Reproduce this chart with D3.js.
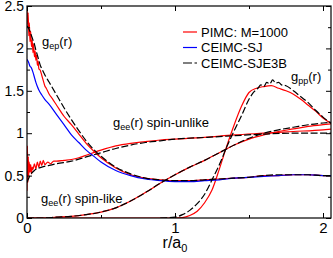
<!DOCTYPE html>
<html>
<head>
<meta charset="utf-8">
<script src="https://cdn.jsdelivr.net/npm/d3@7/dist/d3.min.js"></script>
<style>
body { margin: 0; background: #fff; }
text { font-family: "Liberation Sans", Arial, sans-serif; }
</style>
</head>
<body>
<div id="chart"></div>
<script>
// ---- data ----
// g_ep(r)
var epR_pimc = [0,0.004,0.008,0.012,0.016,0.02,0.025,0.03,0.035,0.04,0.045,0.05,0.055,0.06,0.065,0.07,0.075,0.08,0.09,0.1,0.11,0.12,0.13,0.15,0.17,0.2,0.25,0.3,0.35,0.4,0.45,0.5,0.6,0.7,0.8,0.9,1.0,1.1,1.2,1.3,1.4,1.5,1.6,1.7,1.8,1.9,2.0,2.06];
var epG_pimc = [2.5,2.28,2.42,2.15,2.3,2.08,2.2,2.02,2.1,1.95,2.05,1.9,1.97,1.86,1.92,1.8,1.85,1.76,1.74,1.68,1.62,1.56,1.53,1.46,1.41,1.33,1.2,1.1,0.99,0.88,0.79,0.71,0.59,0.51,0.47,0.45,0.44,0.44,0.45,0.46,0.47,0.48,0.5,0.5,0.51,0.51,0.5,0.5];
var epR_sj = [0,0.01,0.02,0.03,0.04,0.05,0.06,0.07,0.08,0.1,0.12,0.15,0.2,0.25,0.3,0.35,0.4,0.45,0.5,0.6,0.7,0.8,0.9,1.0,1.1,1.2,1.3,1.4,1.5,1.6,1.7,1.8,1.9,2.0,2.06];
var epG_sj = [1.87,1.84,1.79,1.77,1.72,1.66,1.6,1.55,1.51,1.45,1.4,1.34,1.22,1.1,0.98,0.89,0.8,0.73,0.66,0.56,0.5,0.46,0.44,0.43,0.43,0.44,0.45,0.47,0.48,0.49,0.5,0.51,0.51,0.5,0.5];
var epR_e3b = [0,0.01,0.02,0.03,0.04,0.05,0.06,0.07,0.08,0.09,0.1,0.12,0.15,0.2,0.25,0.3,0.35,0.4,0.45,0.5,0.6,0.7,0.8,0.9,1.0,1.1,1.2,1.3,1.4,1.5,1.6,1.7,1.8,1.9,2.0,2.06];
var epG_e3b = [2.27,2.24,2.2,2.15,2.1,2.05,1.98,1.92,1.86,1.8,1.76,1.69,1.6,1.45,1.3,1.16,1.03,0.91,0.81,0.73,0.6,0.52,0.47,0.45,0.44,0.44,0.45,0.46,0.47,0.48,0.5,0.51,0.51,0.51,0.5,0.5];

// g_ee(r) spin-unlike
var unR_pimc = [0,0.003,0.006,0.009,0.012,0.015,0.02,0.025,0.03,0.035,0.04,0.05,0.06,0.07,0.08,0.09,0.1,0.11,0.12,0.14,0.16,0.18,0.2,0.25,0.3,0.35,0.4,0.5,0.6,0.7,0.8,0.9,1.0,1.2,1.4,1.6,1.8,2.0,2.06];
var unG_pimc = [0.32,0.85,0.42,0.72,0.5,0.66,0.54,0.63,0.52,0.6,0.57,0.64,0.58,0.66,0.6,0.67,0.62,0.68,0.63,0.66,0.64,0.67,0.67,0.68,0.69,0.71,0.74,0.8,0.85,0.88,0.9,0.92,0.93,0.95,0.98,1.0,1.02,1.04,1.05];
var unR_e3b = [0,0.02,0.05,0.1,0.15,0.2,0.3,0.4,0.5,0.6,0.7,0.8,0.9,1.0,1.2,1.4,1.6,1.8,2.0,2.06];
var unG_e3b = [0.42,0.5,0.56,0.6,0.62,0.64,0.67,0.72,0.77,0.82,0.86,0.89,0.91,0.93,0.95,0.97,0.99,1.0,1.0,1.0];

// g_ee(r) spin-like
var likeR = [0,0.1,0.2,0.3,0.4,0.5,0.6,0.7,0.8,0.9,1.0,1.1,1.2,1.3,1.4,1.5,1.6,1.7,1.8,1.9,2.0,2.06];
var likeG_pimc = [0,0,0.01,0.02,0.04,0.07,0.12,0.2,0.3,0.41,0.51,0.6,0.68,0.77,0.86,0.93,0.98,1.02,1.05,1.08,1.1,1.11];
var likeG_e3b = [0,0,0.01,0.02,0.04,0.07,0.12,0.2,0.3,0.41,0.51,0.6,0.68,0.77,0.86,0.94,1.0,1.04,1.07,1.1,1.12,1.13];

// g_pp(r)
var ppR_pimc = [0,0.9,1.0,1.05,1.1,1.15,1.2,1.25,1.3,1.35,1.4,1.45,1.5,1.55,1.6,1.65,1.7,1.75,1.8,1.85,1.9,1.95,2.0,2.06];
var ppG_pimc = [0,0,0,0.005,0.03,0.08,0.18,0.33,0.58,0.85,1.1,1.32,1.48,1.53,1.55,1.56,1.53,1.5,1.46,1.4,1.33,1.26,1.18,1.11];
var ppR_e3b = [0.9,1.0,1.05,1.1,1.15,1.2,1.25,1.3,1.35,1.4,1.45,1.5,1.53,1.56,1.58,1.6,1.62,1.64,1.66,1.68,1.7,1.72,1.75,1.8,1.85,1.9,1.95,2.0,2.06];
var ppG_e3b = [0,0.01,0.04,0.09,0.17,0.28,0.45,0.63,0.84,1.03,1.21,1.4,1.48,1.53,1.57,1.55,1.6,1.58,1.63,1.59,1.6,1.57,1.56,1.5,1.43,1.36,1.27,1.19,1.11];

var legendNames = ["PIMC: M=1000", "CEIMC-SJ", "CEIMC-SJE3B"];
var xMajor = [0, 1, 2];
var xMinor = [0.5, 1.5];
var yMajor = [0, 0.5, 1, 1.5, 2, 2.5];
var yMinor = [0.25, 0.75, 1.25, 1.75, 2.25];

// ---- layout ----
var W = 333, H = 258;
var mLeft = 27, mRight = 331, mTop = 6, mBottom = 218;

var svg = d3.select("#chart").append("svg")
  .attr("width", W)
  .attr("height", H);

var x = d3.scaleLinear().domain([0, 2.054]).range([mLeft, mRight]);
var y = d3.scaleLinear().domain([0, 2.5]).range([mBottom, mTop]);

var red = "#ff0000", blue = "#0000ff", black = "#000000";

svg.append("clipPath").attr("id", "clip")
  .append("rect")
  .attr("x", mLeft).attr("y", mTop)
  .attr("width", mRight - mLeft).attr("height", mBottom - mTop);

var line = d3.line()
  .x(function(d) { return x(d[0]); })
  .y(function(d) { return y(d[1]); })
  .curve(d3.curveMonotoneX);

function pairs(rs, gs) {
  return rs.map(function(r, i) { return [r, gs[i]]; });
}

var series = [
  { r: ppR_pimc, g: ppG_pimc, c: red },
  { r: likeR, g: likeG_pimc, c: red },
  { r: unR_pimc, g: unG_pimc, c: red },
  { r: epR_pimc, g: epG_pimc, c: red },
  { r: epR_sj, g: epG_sj, c: blue },
  { r: epR_e3b, g: epG_e3b, c: black, dash: "7,2.5" },
  { r: unR_e3b, g: unG_e3b, c: black, dash: "7,2.5" },
  { r: likeR, g: likeG_e3b, c: black, dash: "7,2.5" },
  { r: ppR_e3b, g: ppG_e3b, c: black, dash: "7,2.5" }
];

var plot = svg.append("g").attr("clip-path", "url(#clip)");

plot.selectAll("path.curve")
  .data(series)
  .enter()
  .append("path")
  .attr("class", "curve")
  .attr("d", function(d) { return line(pairs(d.r, d.g)); })
  .attr("fill", "none")
  .attr("stroke", function(d) { return d.c; })
  .attr("stroke-width", 1.2)
  .attr("stroke-dasharray", function(d) { return d.dash || null; });

// ---- axes (ticks inside, mirrored on top/right) ----
function fmt(v) { return d3.format("")(v); }

var gx = svg.append("g").attr("transform", "translate(0," + mBottom + ")")
  .call(d3.axisBottom(x).tickValues(xMajor).tickSize(-5).tickPadding(4).tickFormat(fmt));
svg.append("g").attr("transform", "translate(0," + mBottom + ")")
  .call(d3.axisBottom(x).tickValues(xMinor).tickSize(-3).tickFormat(""));
svg.append("g").attr("transform", "translate(0," + mTop + ")")
  .call(d3.axisTop(x).tickValues(xMajor).tickSize(-5).tickFormat(""));
svg.append("g").attr("transform", "translate(0," + mTop + ")")
  .call(d3.axisTop(x).tickValues(xMinor).tickSize(-3).tickFormat(""));

var gy = svg.append("g").attr("transform", "translate(" + mLeft + ",0)")
  .call(d3.axisLeft(y).tickValues(yMajor).tickSize(-5).tickPadding(3).tickFormat(fmt));
svg.append("g").attr("transform", "translate(" + mLeft + ",0)")
  .call(d3.axisLeft(y).tickValues(yMinor).tickSize(-3).tickFormat(""));
svg.append("g").attr("transform", "translate(" + mRight + ",0)")
  .call(d3.axisRight(y).tickValues(yMajor).tickSize(-5).tickFormat(""));
svg.append("g").attr("transform", "translate(" + mRight + ",0)")
  .call(d3.axisRight(y).tickValues(yMinor).tickSize(-3).tickFormat(""));

svg.selectAll(".domain").remove();
svg.selectAll(".tick line").attr("stroke", black).attr("stroke-width", 1);
gx.selectAll("text").attr("font-size", 15).attr("fill", black);
gy.selectAll("text").attr("font-size", 14).attr("fill", black);

svg.append("rect")
  .attr("x", mLeft).attr("y", mTop)
  .attr("width", mRight - mLeft).attr("height", mBottom - mTop)
  .attr("fill", "none")
  .attr("stroke", black)
  .attr("stroke-width", 1.2);

// x axis title r/a0
var xt = svg.append("text")
  .attr("x", x(1))
  .attr("y", 248)
  .attr("text-anchor", "middle")
  .attr("font-size", 16);
xt.append("tspan").text("r/a");
xt.append("tspan").attr("font-size", 11).attr("dy", 4).text("0");

// ---- curve labels ----
function glabel(px, py, sub, rest) {
  var t = svg.append("text").attr("x", px).attr("y", py).attr("font-size", 13).attr("fill", black);
  t.append("tspan").text("g");
  t.append("tspan").attr("font-size", 9).attr("dy", 3).text(sub);
  t.append("tspan").attr("dy", -3).text(rest);
}
glabel(42, 46, "ep", "(r)");
glabel(291, 81, "pp", "(r)");
glabel(113, 127, "ee", "(r) spin-unlike");
glabel(41, 203, "ee", "(r) spin-like");

// ---- legend ----
var legendColors = [red, blue, black];
var lg = svg.append("g");
legendNames.forEach(function(name, i) {
  var ly = 32 + i * 15.5;
  lg.append("line")
    .attr("x1", 183).attr("x2", 197)
    .attr("y1", ly).attr("y2", ly)
    .attr("stroke", legendColors[i])
    .attr("stroke-width", 1.2)
    .attr("stroke-dasharray", i == 2 ? "9,2.5" : null);
  lg.append("text")
    .attr("x", 201).attr("y", ly + 4.5)
    .attr("font-size", 13)
    .text(name);
});
</script>
</body>
</html>
